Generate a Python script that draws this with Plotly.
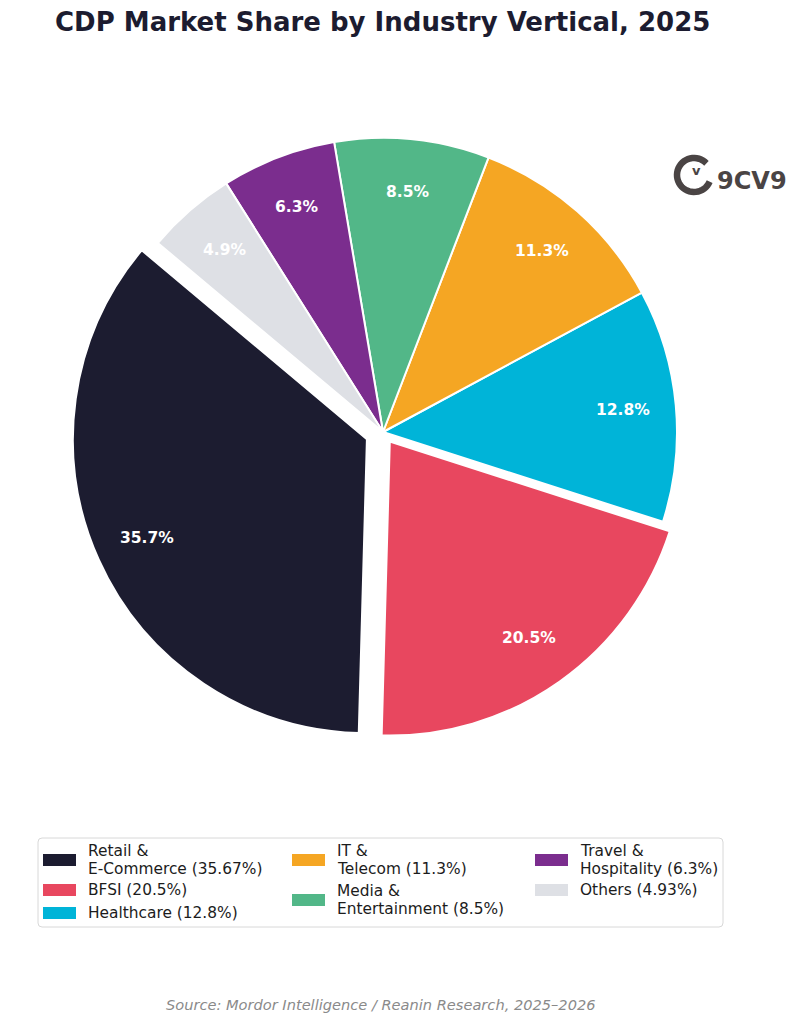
import numpy as np
import plotly.graph_objects as go

W, H = 803, 1024

# ---- data ----
segments = ["Retail &<br>E-Commerce", "BFSI", "Healthcare", "IT &<br>Telecom",
            "Media &<br>Entertainment", "Travel &<br>Hospitality", "Others"]
shares = [35.67, 20.5, 12.8, 11.3, 8.5, 6.3, 4.93]
colors = ["#1c1c30", "#e8475f", "#00b4d8", "#f5a623", "#52b788", "#7b2d8e", "#dee0e5"]
pulls = [0.06, 0.04, 0, 0, 0, 0, 0]

title_text = "CDP Market Share by Industry Vertical, 2025"
source_text = "Source: Mordor Intelligence / Reanin Research, 2025–2026"

START_ANGLE = 140      # degrees, math convention (first slice starts here, counterclockwise)
PCT_DIST = 0.82


def px(x):
    return x / W


def py(y):
    return 1 - y / H


# pie geometry (pixels)
cx, cy, R = 383, 432, 294
half = R * (1 + max(pulls))
total = sum(shares)

# plotly rotation: clockwise-from-top angle where the first slice's counterclockwise edge sits
rotation = (90 - START_ANGLE) - 360 * shares[0] / total

fig = go.Figure()
fig.add_trace(go.Pie(
    labels=[s.replace("<br>", " ") for s in segments],
    values=shares,
    sort=False,
    direction="counterclockwise",
    rotation=rotation,
    pull=pulls,
    marker=dict(colors=colors, line=dict(color="white", width=2)),
    textinfo="none",
    showlegend=False,
    domain=dict(x=[px(cx - half), px(cx + half)], y=[py(cy + half), py(cy - half)]),
    hoverinfo="label+percent",
))

annotations = []
shapes = []

# percentage labels inside slices
cum = 0.0
for val, pl in zip(shares, pulls):
    mid = np.deg2rad(START_ANGLE + 360 * (cum + val / 2) / total)
    cum += val
    d = (pl + PCT_DIST) * R
    lx = cx + d * np.cos(mid)
    ly = cy - d * np.sin(mid)
    annotations.append(dict(text=f"<b>{100 * val / total:.1f}%</b>", x=px(lx), y=py(ly),
                            xref="paper", yref="paper", xanchor="center", yanchor="middle",
                            showarrow=False,
                            font=dict(family="DejaVu Sans", size=15.5, color="white")))

# title
annotations.append(dict(text="<b>" + title_text + "</b>", x=px(382), y=py(22), xref="paper", yref="paper",
                        xanchor="center", yanchor="middle", showarrow=False,
                        font=dict(family="DejaVu Sans", size=26, color="#1c1c30")))
# source
annotations.append(dict(text="<i>" + source_text + "</i>", x=px(380), y=py(1004), xref="paper", yref="paper",
                        xanchor="center", yanchor="middle", showarrow=False,
                        font=dict(family="DejaVu Sans", size=14.6, color="#8a8a8a")))

# legend box
x0, x1, y0, y1, rr = 38, 723, 838, 927, 4
path = (f"M {px(x0+rr)},{py(y0)} L {px(x1-rr)},{py(y0)} Q {px(x1)},{py(y0)} {px(x1)},{py(y0+rr)} "
        f"L {px(x1)},{py(y1-rr)} Q {px(x1)},{py(y1)} {px(x1-rr)},{py(y1)} "
        f"L {px(x0+rr)},{py(y1)} Q {px(x0)},{py(y1)} {px(x0)},{py(y1-rr)} "
        f"L {px(x0)},{py(y0+rr)} Q {px(x0)},{py(y0)} {px(x0+rr)},{py(y0)} Z")
shapes.append(dict(type="path", path=path, xref="paper", yref="paper",
                   line=dict(color="#d8d8d8", width=1), fillcolor="rgba(255,255,255,0.9)"))

col_x = [43, 292, 535]
col_of = [0, 0, 0, 1, 1, 2, 2]
ymid = [860, 890, 913, 860, 900, 860, 890]
LINE_H = 17.5
for i, (name, val, col) in enumerate(zip(segments, shares, colors)):
    mx = col_x[col_of[i]]
    yc = ymid[i]
    shapes.append(dict(type="rect", xref="paper", yref="paper",
                       x0=px(mx), x1=px(mx + 33), y0=py(yc - 6), y1=py(yc + 6),
                       fillcolor=col, line=dict(width=0)))
    lines = f"{name} ({val}%)".split("<br>")
    n = len(lines)
    for k, line in enumerate(lines):
        ly = yc + (k - (n - 1) / 2) * LINE_H
        annotations.append(dict(text=line, x=px(mx + 43), y=py(ly), xref="paper", yref="paper",
                                xanchor="left", yanchor="middle", align="left", showarrow=False,
                                font=dict(family="DejaVu Sans", size=15.4, color="#1c1c1c")))

# logo (9CV9)
lc = (694, 175)
lr = 17
angs = np.deg2rad(np.linspace(43, 337, 40))
pts = [(lc[0] + lr * np.cos(a), lc[1] - lr * np.sin(a)) for a in angs]
lpath = "M " + " L ".join(f"{px(x)},{py(y)}" for x, y in pts)
shapes.append(dict(type="path", path=lpath, xref="paper", yref="paper",
                   line=dict(color="#4a4444", width=6.5)))
annotations.append(dict(text="<b>v</b>", x=px(696), y=py(170), xref="paper", yref="paper",
                        xanchor="center", yanchor="middle", showarrow=False,
                        font=dict(family="DejaVu Sans", size=13, color="#4a4444")))
annotations.append(dict(text="<b>9CV9</b>", x=px(715), y=py(181), xref="paper", yref="paper",
                        xanchor="left", yanchor="middle", showarrow=False,
                        font=dict(family="DejaVu Sans", size=24, color="#4a4444")))

fig.update_layout(
    width=W, height=H,
    margin=dict(l=0, r=0, t=0, b=0),
    paper_bgcolor="white",
    plot_bgcolor="white",
    annotations=annotations,
    shapes=shapes,
    font=dict(family="DejaVu Sans"),
)

fig.write_html("out.html")
